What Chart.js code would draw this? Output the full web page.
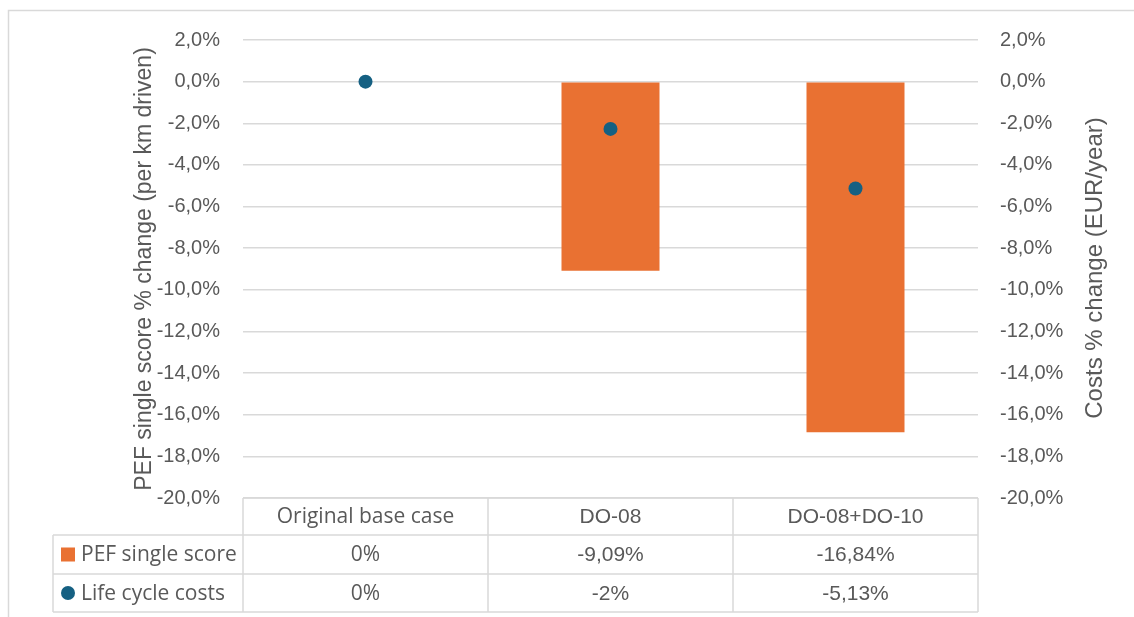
<!DOCTYPE html>
<html>
<head>
<meta charset="utf-8">
<script src="https://cdn.jsdelivr.net/npm/chart.js@4.4.1/dist/chart.umd.min.js"></script>
<style>
html,body{margin:0;padding:0;background:#fff;}
#wrap{position:relative;width:1134px;height:617px;overflow:hidden;}
canvas{display:block;}
</style>
</head>
<body>
<div id="wrap"><canvas id="c" width="1134" height="617"></canvas></div>
<script>
// ---- data ----
const categories = ['Original base case', 'DO-08', 'DO-08+DO-10'];
const pefSingleScore = [0, -9.09, -16.84];
const lifeCycleCosts = [0, -2.27, -5.13];
const pefTableLabels = ['0%', '-9,09%', '-16,84%'];
const lccTableLabels = ['0%', '-2%', '-5,13%'];
const seriesNames = ['PEF single score', 'Life cycle costs'];
const axisMin = -20, axisMax = 2, axisStep = 2;
const leftTitle = 'PEF single score % change (per km driven)';
const rightTitle = 'Costs % change (EUR/year)';

const ORANGE = '#E97132';
const BLUE = '#156082';
const GRID = '#d9d9d9';
const TXT = '#595959';
const AX_FONT = 'Liberation Sans, Arial, sans-serif';
const TBL_FONT = 'Open Sans, sans-serif';

const fmt = v => (Math.round(v * 10) / 10).toFixed(1).replace('.', ',').replace('-0,0', '0,0') + '%';

const extras = {
  id: 'extras',
  beforeDraw(chart) {
    const ctx = chart.ctx;
    ctx.save();
    ctx.strokeStyle = GRID;
    ctx.lineWidth = 1.5;
    ctx.beginPath();
    ctx.moveTo(8.5, 1000);
    ctx.lineTo(8.5, 10.5);
    ctx.lineTo(2000, 10.5);
    ctx.stroke();
    ctx.restore();
  },
  afterDraw(chart) {
    const ctx = chart.ctx;
    const ca = chart.chartArea;
    const xs = chart.scales.x;
    const n = categories.length;
    const colW = (ca.right - ca.left) / n;
    const top = ca.bottom;
    const rows = [top, top + 37, top + 76, top + 114];
    const legL = 53;
    ctx.save();
    ctx.strokeStyle = GRID;
    ctx.lineWidth = 1.5;
    ctx.beginPath();
    ctx.moveTo(ca.left, rows[0]); ctx.lineTo(ca.right, rows[0]);
    for (let r = 1; r < rows.length; r++) {
      ctx.moveTo(legL, rows[r]); ctx.lineTo(ca.right, rows[r]);
    }
    for (let i = 0; i <= n; i++) {
      const x = ca.left + i * colW;
      ctx.moveTo(x, rows[0]); ctx.lineTo(x, rows[3]);
    }
    ctx.moveTo(legL, rows[1]); ctx.lineTo(legL, rows[3]);
    ctx.stroke();

    ctx.fillStyle = TXT;
    ctx.textAlign = 'center';
    ctx.textBaseline = 'middle';
    for (let i = 0; i < n; i++) {
      const cx = xs.getPixelForValue(i);
      ctx.font = (i === 0 ? '21px ' + TBL_FONT : '21px ' + AX_FONT);
      ctx.fillText(categories[i], cx, (rows[0] + rows[1]) / 2 + 1);
      ctx.fillText(pefTableLabels[i], cx, (rows[1] + rows[2]) / 2 + 1);
      ctx.fillText(lccTableLabels[i], cx, (rows[2] + rows[3]) / 2 + 1);
    }
    // legend keys
    ctx.font = '21px ' + TBL_FONT;
    ctx.textAlign = 'left';
    ctx.fillStyle = ORANGE;
    const y1 = (rows[1] + rows[2]) / 2, y2 = (rows[2] + rows[3]) / 2;
    ctx.fillRect(61, y1 - 7, 14, 14);
    ctx.fillStyle = BLUE;
    ctx.beginPath(); ctx.arc(68, y2, 7, 0, Math.PI * 2); ctx.fill();
    ctx.fillStyle = TXT;
    ctx.fillText(seriesNames[0], 81, y1 + 1);
    ctx.fillText(seriesNames[1], 81, y2 + 1);

    // right axis title (reads bottom-to-top)
    ctx.save();
    ctx.translate(1095, (ca.top + ca.bottom) / 2 - 1);
    ctx.rotate(-Math.PI / 2);
    ctx.textAlign = 'center';
    ctx.textBaseline = 'middle';
    ctx.font = '24px ' + AX_FONT;
    ctx.fillStyle = TXT;
    ctx.fillText(rightTitle, 0, 0);
    ctx.restore();
    ctx.restore();
  }
};

new Chart(document.getElementById('c'), {
  type: 'bar',
  data: {
    labels: categories,
    datasets: [
      {
        type: 'line',
        label: seriesNames[1],
        data: lifeCycleCosts,
        yAxisID: 'y2',
        showLine: false,
        pointRadius: 7,
        pointHoverRadius: 7,
        pointBackgroundColor: BLUE,
        pointBorderColor: BLUE,
        pointBorderWidth: 0,
        order: 0
      },
      {
        type: 'bar',
        label: seriesNames[0],
        data: pefSingleScore,
        yAxisID: 'y',
        backgroundColor: ORANGE,
        borderWidth: 0,
        categoryPercentage: 1,
        barPercentage: 0.4,
        order: 1
      }
    ]
  },
  options: {
    responsive: false,
    devicePixelRatio: 1,
    animation: false,
    layout: { padding: { top: 40, bottom: 119, left: 0, right: 0 } },
    plugins: { legend: { display: false }, tooltip: { enabled: false } },
    scales: {
      x: { display: false, offset: true },
      y: {
        position: 'left',
        min: axisMin, max: axisMax,
        afterFit(s) { s.width = 243; },
        ticks: { stepSize: axisStep, callback: fmt, color: TXT, padding: 23, font: { family: AX_FONT, size: 20 } },
        grid: { color: GRID, lineWidth: 1.5, drawTicks: false },
        border: { display: false },
        title: { display: true, text: leftTitle, color: TXT, font: { family: AX_FONT, size: 23 }, padding: { top: 131, bottom: 0 } }
      },
      y2: {
        position: 'right',
        min: axisMin, max: axisMax,
        afterFit(s) { s.width = 156; },
        ticks: { stepSize: axisStep, callback: fmt, color: TXT, padding: 22, font: { family: AX_FONT, size: 20 } },
        grid: { display: false, drawTicks: false },
        border: { display: false }
      }
    }
  },
  plugins: [extras]
});
</script>
</body>
</html>
